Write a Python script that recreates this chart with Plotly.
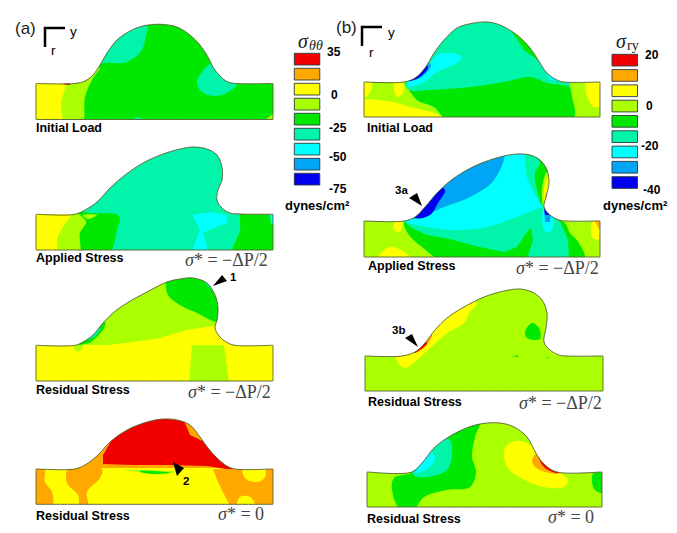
import math
import plotly.graph_objects as go

LEVEL_COLORS = ["#0000f0", "#00a5f5", "#00ffff", "#00f5aa", "#00e800", "#aaff00", "#ffff00", "#ffa800", "#f20000"]
NAVY, BLUE, CYAN, TEAL, GREEN, LIME, YEL, ORA, RED = range(9)

A1_OUTLINE = [(36,119.5),(36,83.5),(75,83.5),(85,81),(93,75),(100,65),(107,53),(117,40),(130,31),(143,26),(160,24.3),(177,27),(190,35),(200,45),(208,57),(213,67),(220,76),(228,82),(237,83.5),(273,83.5),(273,119.5)]
A1_REGIONS = [
    (GREEN, 0, A1_OUTLINE),
    (LIME, 1, [(60,76),(78,78),(100,68),(93,78),(85,97),(82,124),(60,124)]),
    (YEL, 1, [(28,78),(66,78),(64,92),(61,103),(61,124),(28,124)]),
    (TEAL, 1, [(98,66),(103,63),(123,63),(134,58),(142,50),(145,40),(147,22),(130,18),(92,40)]),
    (TEAL, 1, [(211,64),(202,72),(197,83),(202,92),(213,96),(227,93),(237,84),(238,70)]),
    (TEAL, 1, [(131,122),(137,117),(145,122)]),
    (LIME, 0, [(265,120),(273,114),(277,122)]),
    (RED, 0, [(63,83),(70,83),(70,85),(64,84.5)]),
]
A2_OUTLINE = [(36,250),(36,214.3),(75,214.3),(85,210),(97,202),(110,188),(125,175),(143,163),(163,154),(180,149),(193,147),(207,149),(217,155),(222,167),(222,180),(218,190),(217,200),(222,208),(230,213),(240,214),(273,214.3),(273,250)]
A2_REGIONS = [
    (TEAL, 0, A2_OUTLINE),
    (GREEN, 1, [(60,208),(75,210),(90,213),(119,216),(117,230),(108,254),(60,254)]),
    (LIME, 1, [(55,254),(60,233),(68,212),(75,212),(86,222),(80,233),(79,254)]),
    (LIME, 1, [(83,215),(97,215),(88,219)]),
    (YEL, 1, [(28,210),(73,210),(63,227),(57,242),(58,254),(28,254)]),
    (GREEN, 1, [(242,210),(240,230),(233,254),(280,254),(280,210)]),
    (CYAN, 0, [(270,214),(274,214),(274,224),(271,224)]),
    (CYAN, 0, [(192,215),(198,225),(200,230),(196,240),(192,252),(208,252),(206,243),(203,233),(214,228),(227,223),(227,215),(210,212)]),
]
A3_OUTLINE = [(36,381),(36,345.3),(75,345.3),(83,342),(93,335),(103,323),(113,313),(127,303),(147,292),(167,282),(180,279),(193,278),(207,283),(215,295),(218,308),(217,320),(215,328),(220,337),(228,343),(235,345.3),(273,345.3),(273,381)]
A3_REGIONS = [
    (YEL, 0, A3_OUTLINE),
    (LIME, 0, [(78,345),(107,345),(133,342),(160,338),(187,330),(213,326),(226,320),(226,270),(90,270),(70,340)]),
    (GREEN, 1, [(166,281),(168,295),(180,305),(197,313),(216,322),(226,322),(226,285),(195,273),(168,277)]),
    (TEAL, 0, [(198,276),(205,283),(212,290),(216,296),(222,290),(215,275)]),
    (GREEN, 0, [(80,345),(90,343),(97,337),(103,330),(106,323),(100,320),(70,340)]),
    (TEAL, 0, [(88,340),(95,336.5),(101,329),(97,326),(85,338)]),
    (LIME, 0, [(192,345.3),(189,383),(229,383),(224,345.3)]),
    (LIME, 1, [(74,346),(83,346),(80,351),(76,351)]),
]
A4_OUTLINE = [(36,504.3),(36,469),(75,469),(85,465),(98,455),(110,442),(127,430),(147,422),(163,419),(177,420),(190,425),(200,437),(208,448),(217,458),(227,466),(235,469),(273,469),(273,504.3)]
A4_REGIONS = [
    (YEL, 0, A4_OUTLINE),
    (ORA, 0, [(70,468),(235,468),(245,468),(245,420),(70,420)]),
    (RED, 0, [(110,443),(103,455),(103,464),(133,465),(167,465),(207,466),(232,470),(240,462),(215,447),(190,435),(185,423),(183,410),(120,425)]),
    (ORA, 1, [(28,469),(44,469),(45,482),(52,492),(52,506),(28,506)]),
    (ORA, 1, [(68,469),(67,483),(78,495),(80,506),(88,506),(87,492),(100,478),(102,469)]),
    (ORA, 0, [(213,469),(217,480),(222,490),(230,506),(280,506),(280,469)]),
    (YEL, 1, [(243,466),(245,478),(258,482),(265,477),(264,466)]),
    (YEL, 1, [(237,506),(240,497),(250,497),(255,506)]),
    (LIME, 1, [(125,470),(140,470),(175,472),(160,474.5),(140,472.5)]),
    (GREEN, 1, [(140,471),(160,471.5),(170,472.5),(155,474),(142,472.5)]),
]
B1_OUTLINE = [(364,117),(364,82),(404,82),(415,78),(425,68),(434,53),(444,40),(457,28),(474,23),(487,22),(500,25),(517,35),(530,48),(540,63),(547,73),(557,80),(564,82),(600,82),(600,117)]
B1_REGIONS = [
    (TEAL, 0, B1_OUTLINE),
    (LIME, 0, [(356,74),(404,74),(405,85),(417,100),(434,107),(447,119),(356,119)]),
    (LIME, 0, [(569,80),(572,97),(573,119),(608,119),(608,80)]),
    (GREEN, 1, [(405,84),(409,90),(430,90),(470,87),(504,82),(530,77),(547,83),(569,87),(572,97),(573,119),(447,119),(434,107),(417,100)]),
    (YEL, 1, [(356,102),(387,101),(410,107),(434,113),(444,119),(356,119)]),
    (YEL, 1, [(362,80),(371,80),(371,90),(366,97),(362,97)]),
    (YEL, 1, [(395,80),(394,90),(397,97),(403,93),(402,80)]),
    (YEL, 1, [(587,80),(586,93),(594,107),(602,105),(602,80)]),
    (GREEN, 0, [(512,32),(524,50),(540,62),(550,60),(530,25)]),
    (CYAN, 1, [(409,80),(407,87),(424,82),(437,72),(457,63),(462,57),(452,53),(437,55),(429,65)]),
    (CYAN, 0, [(544,68),(550,80),(557,81),(564,78)]),
    (BLUE, 1, [(408,80),(420,78),(431,66),(428,62),(415,72)]),
    (NAVY, 1, [(409,81),(420,77),(428,67),(424,64),(412,75)]),
]
B2_OUTLINE = [(364,257),(364,221),(404,221),(415,217),(425,207),(437,193),(454,178),(477,165),(500,157),(517,154),(530,155),(540,160),(547,170),(549,183),(546,197),(544,207),(550,215),(559,220),(566,221),(600,221),(600,257)]
B2_REGIONS = [
    (LIME, 0, B2_OUTLINE),
    (YEL, 1, [(595,219),(592,222),(591,233),(594,239),(602,238),(602,219)]),
    (ORA, 0, [(595,221),(599,229),(601,229),(601,220)]),
    (YEL, 1, [(395,221),(394,230),(400,232),(402,221)]),
    (YEL, 1, [(378,259),(387,248),(397,248),(411,259)]),
    (GREEN, 1, [(404,222),(409,235),(422,247),(440,259),(584,259),(579,243),(570,233),(564,222),(540,215),(470,200),(420,210)]),
    (TEAL, 0, [(404,221),(412,228),(427,235),(450,239),(475,246),(504,252),(517,247),(527,232),(531,228),(533,240),(527,259),(569,259),(568,240),(561,224),(556,216),(552,150),(510,145),(470,190),(410,215)]),
    (CYAN, 1, [(404,221),(412,224),(427,227),(454,230),(487,227),(514,218),(537,209),(544,207),(540,203),(527,177),(522,150),(502,150),(494,180),(470,197),(444,207),(417,217)]),
    (CYAN, 1, [(544,208),(544,230),(550,232),(554,223),(550,213)]),
    (BLUE, 0, [(544,207),(545,222),(550,222),(551,213)]),
    (NAVY, 0, [(544,207),(545,215),(550,215),(547,209)]),
    (BLUE, 1, [(414,219),(444,207),(470,197),(494,180),(504,152),(480,150),(420,190),(408,215)]),
    (NAVY, 1, [(416,218),(430,215),(438,203),(445,190),(435,185),(410,210)]),
    (GREEN, 1, [(535,155),(540,163),(535,173),(537,190),(544,207),(556,200),(556,155)]),
    (LIME, 1, [(547,172),(542,190),(544,207),(556,190)]),
    (YEL, 1, [(548,177),(544,190),(545,203),(552,190)]),
    (ORA, 0, [(546,193),(544,206),(545,207),(549,195)]),
]
B3_OUTLINE = [(365,391),(365,356),(402,356),(415,352),(425,343),(435,330),(447,318),(464,307),(484,297),(504,291),(519,289),(532,292),(542,300),(547,313),(546,328),(544,342),(550,350),(559,355),(567,356),(603,356),(603,391)]
B3_REGIONS = [
    (LIME, 0, B3_OUTLINE),
    (YEL, 1, [(400,365),(405,368),(417,360),(430,348),(447,333),(464,323),(469,313),(477,303),(455,300),(400,345),(396,358)]),
    (ORA, 1, [(412,353),(424,348),(432,335),(424,335),(408,350)]),
    (RED, 1, [(414,353),(420,350),(427,343),(422,340),(408,351)]),
    (GREEN, 1, [(525,332),(527,338),(540,339),(539,328),(532,323)]),
    (GREEN, 0, [(510,356),(519,355.5),(518,357)]),
    (GREEN, 0, [(546,357),(549,358),(548,359)]),
    (YEL, 0, [(550,351),(560,356),(553,354),(548,350)]),
]
B4_OUTLINE = [(367,507),(367,472),(412,472),(422,463),(434,448),(447,438),(464,429),(480,424),(500,423),(514,427),(527,437),(537,455),(545,465),(557,472),(602,472),(602,507)]
B4_REGIONS = [
    (LIME, 0, B4_OUTLINE),
    (GREEN, 1, [(412,472),(394,478),(392,490),(400,509),(414,509),(424,497),(447,490),(470,487),(476,472),(472,457),(475,437),(480,420),(440,420),(400,460)]),
    (TEAL, 1, [(412,472),(417,477),(447,470),(452,447),(449,439),(425,440)]),
    (CYAN, 1, [(415,473),(430,467),(435,457),(430,452),(418,465)]),
    (YEL, 1, [(504,452),(507,467),(519,477),(544,487),(564,487),(568,480),(557,470),(545,455),(527,443),(517,441),(507,445)]),
    (ORA, 1, [(532,460),(535,467),(545,472),(559,473),(552,460),(539,452)]),
    (RED, 1, [(539,458),(545,468),(559,473),(556,462),(540,452)]),
    (GREEN, 1, [(604,472),(594,472),(592,482),(595,490),(604,493)]),
]
PANELS = [(A1_OUTLINE, A1_REGIONS), (A2_OUTLINE, A2_REGIONS), (A3_OUTLINE, A3_REGIONS), (A4_OUTLINE, A4_REGIONS),
          (B1_OUTLINE, B1_REGIONS), (B2_OUTLINE, B2_REGIONS), (B3_OUTLINE, B3_REGIONS), (B4_OUTLINE, B4_REGIONS)]

ARROWS = [[(213,286),(222,275),(227,281)], [(173,462),(184,468),(177,476)],
          [(422,206),(409,198),(417,193)], [(418,347),(405,338),(412,334)]]
ARROW_TEXT = [("1",233,277), ("2",186,481), ("3a",401,190), ("3b",398,330)]
AXIS_MARKS = [[(65,28),(45,28),(45,47)], [(382,27),(362,27),(362,46)]]
AXIS_TEXT = [("y",73,31), ("r",53,50), ("y",391,32), ("r",371,52)]
PANEL_TAGS = [("(a)",25,28), ("(b)",346,27)]
BOLD_LABELS = [("Initial Load",34,128), ("Applied Stress",34,258), ("Residual Stress",34,390), ("Residual Stress",34,516),
               ("Initial Load",365,128), ("Applied Stress",366,266), ("Residual Stress",366,402), ("Residual Stress",365,519)]
EQ_HALF = "<i>σ</i>* = −ΔP/2"
EQ_ZERO = "<i>σ</i>* = 0"
EQ_LABELS = [(EQ_HALF,183,260), (EQ_HALF,186,392), (EQ_ZERO,216,514), (EQ_HALF,514,268), (EQ_HALF,517,403), (EQ_ZERO,546,517)]
CB_LEFT = [294.3, 612]
CB_TOP = [53.3, 54.3]
CB_STEP = [15, 15.3]
CB_W = 25.5
CB_H = 11.7
CB_SYMBOLS = [("σ",303,41), ("σ",621,41)]
CB_SUBS = [("θθ",316,45,"italic"), ("ry",633,45,"normal")]
CB_TICKS = [("35",334,52),("0",334,95),("-25",338,128),("-50",338,157),("-75",338,189),
            ("20",652,55),("0",649,106),("-20",650,146),("-40",652,190)]
UNITS = [("dynes/cm²",317,205), ("dynes/cm²",635,205)]

fig = go.Figure()

def sharpen(pts, idx):
    """Keep listed vertices as hard corners when the path is drawn as a spline."""
    out = []
    n = len(pts)
    for i, p in enumerate(pts):
        if i not in idx:
            out.append(p)
            continue
        for j in (-1, 0, 1):
            if j == 0:
                out.append(p)
            else:
                q = pts[(i+j) % n]
                d = math.hypot(q[0]-p[0], q[1]-p[1]) or 1
                out.append((p[0]+(q[0]-p[0])*0.6/d, p[1]+(q[1]-p[1])*0.6/d))
    return out

def poly(pts, color, smooth=False, line=None, width=0, closed=True, fill=True):
    pts2 = list(pts) + ([pts[0]] if closed else [])
    fig.add_trace(go.Scatter(x=[p[0] for p in pts2], y=[p[1] for p in pts2], mode="lines",
                             fill="toself" if fill else "none", fillcolor=color if fill else None,
                             line=dict(color=line or color, width=width, shape="spline" if smooth else "linear",
                                       smoothing=1.0, simplify=False),
                             hoverinfo="skip", showlegend=False))

for outline, regions in PANELS:
    n = len(outline)
    smooth_outline = sharpen(outline, {0, 1, n-2, n-1})
    for lvl, smooth, pts in regions:
        if pts is outline:
            poly(smooth_outline, LEVEL_COLORS[lvl], True)
        else:
            poly(pts, LEVEL_COLORS[lvl], bool(smooth))
    xs = [p[0] for p in outline]
    ys = [p[1] for p in outline]
    x0, x1, y0, y1 = min(xs)-30, max(xs)+30, min(ys)-12, max(ys)+14
    start = outline[0]
    keyhole = [(x0,y0),(x1,y0),(x1,y1),(x0,y1),(x0,start[1])] + outline[::-1] + [(x0,start[1])]
    k = len(outline)
    corner_idx = {0,1,2,3,4,5,6, 4+k-2, 4+k-1, 4+k, 4+k+1}
    poly(sharpen(keyhole, corner_idx), "#ffffff", True)
    poly(smooth_outline, "#55602c", True, width=0.9, fill=False)

for tri in ARROWS:
    poly(tri, "#000000")
for mark in AXIS_MARKS:
    poly(mark, "#000000", width=2.5, closed=False, fill=False)
for b in range(2):
    for i in range(9):
        t = CB_TOP[b] + i*CB_STEP[b]
        l = CB_LEFT[b]
        poly([(l,t),(l+CB_W,t),(l+CB_W,t+CB_H),(l,t+CB_H)], LEVEL_COLORS[8-i], line="#2b3a40", width=0.9)

ann = []
def text(s, x, y, size, family="Liberation Sans", anchor="center", color="#000000", weight="normal", style="normal"):
    ann.append(dict(text=s, x=x, y=y, xref="x", yref="y", showarrow=False, xanchor=anchor, yanchor="middle",
                    font=dict(size=size, family=family, color=color, weight=weight, style=style)))
for s,x,y in PANEL_TAGS: text(s,x,y,17,color="#222222")
for s,x,y in AXIS_TEXT: text(s,x,y,13.5)
for s,x,y in ARROW_TEXT: text(s,x,y,11.5,weight="bold")
for s,x,y in BOLD_LABELS: text(s,x,y,12.5,anchor="left",weight="bold")
for s,x,y in EQ_LABELS: text(s,x,y,18,family="Liberation Serif",anchor="left",color="#444444")
for s,x,y in CB_SYMBOLS: text(s,x,y,20,family="Liberation Serif",color="#222222",style="italic")
for s,x,y,st in CB_SUBS: text(s,x,y,14,family="Liberation Serif",color="#222222",style=st)
for s,x,y in CB_TICKS: text(s,x,y,12,weight="bold")
for s,x,y in UNITS: text(s,x,y,13,weight="bold")

fig.update_layout(width=677, height=533, margin=dict(l=0,r=0,t=0,b=0), paper_bgcolor="white", plot_bgcolor="white",
                  showlegend=False, annotations=ann,
                  xaxis=dict(range=[0,677], visible=False, fixedrange=True),
                  yaxis=dict(range=[533,0], visible=False, fixedrange=True))
fig.write_html("out.html", config=dict(displayModeBar=False),
               post_script="document.body.style.margin='0';document.body.style.overflow='hidden';")
